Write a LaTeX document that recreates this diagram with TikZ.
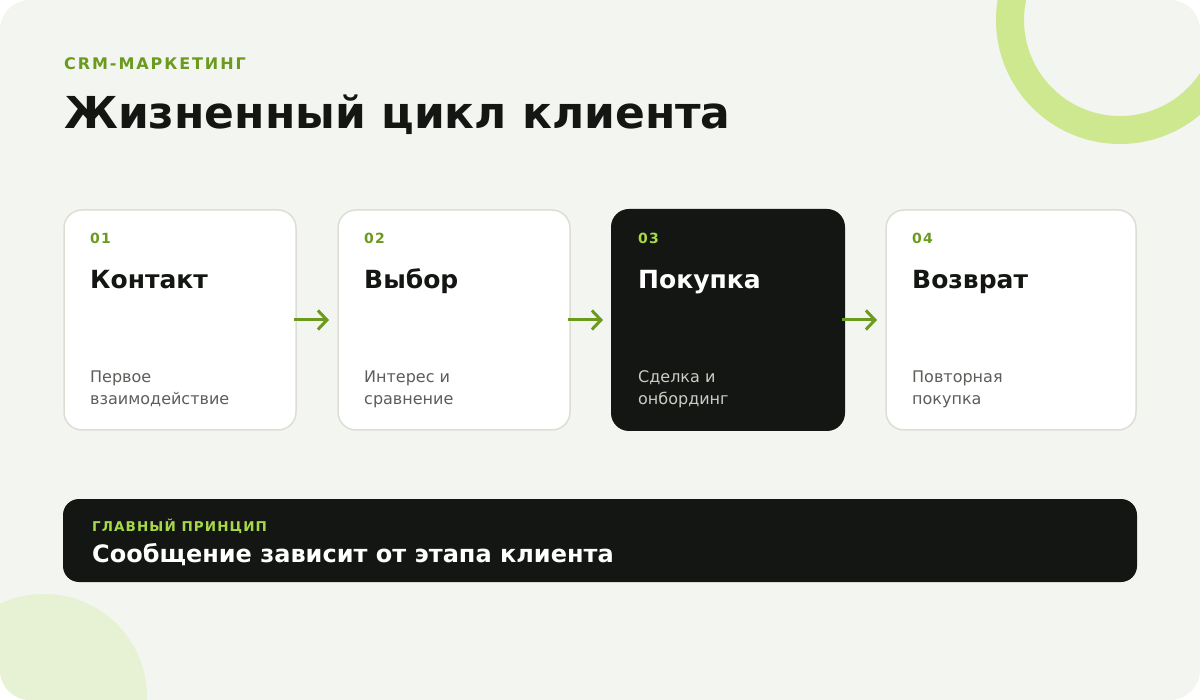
\documentclass[tikz,border=0pt]{standalone}
\usepackage{fontspec}
\setmainfont{DejaVu Sans}
\newfontfamily\spacedfont[LetterSpace=8]{DejaVu Sans}
\newfontfamily\widefont[LetterSpace=12]{DejaVu Sans}
\usetikzlibrary{arrows.meta}
\definecolor{bgc}{HTML}{F3F5F0}
\definecolor{darkc}{HTML}{131612}
\definecolor{greenc}{HTML}{6B9A1E}
\definecolor{limec}{HTML}{A8D84A}
\definecolor{ringc}{HTML}{CDE88F}
\definecolor{blobc}{HTML}{E6F2D3}
\definecolor{borderc}{HTML}{DCDED6}
\definecolor{descc}{HTML}{5C5E5A}
\definecolor{descdark}{HTML}{C9CDC3}
\begin{document}
\begin{tikzpicture}[x=1pt,y=-1pt,
  card/.style={rounded corners=18pt, fill=white, draw=borderc, line width=1.5pt},
  darkcard/.style={rounded corners=18pt, fill=darkc},
  num/.style={anchor=base west, inner sep=0pt, font=\fontsize{14}{16}\selectfont\bfseries\spacedfont, text=greenc},
  ttl/.style={anchor=base west, inner sep=0pt, font=\fontsize{25}{28}\selectfont\bfseries, text=darkc},
  desc/.style={anchor=base west, inner sep=0pt, font=\fontsize{16}{22}\selectfont, text=descc},
  flow/.style={draw=greenc, line width=3pt, -{Straight Barb[length=9pt,width=19pt,line width=3pt]}}
]
\useasboundingbox (0,0) rectangle (1200,700);
\begin{scope}
\clip[rounded corners=30pt] (0,0) rectangle (1200,700);
\fill[bgc] (0,0) rectangle (1200,700);
\draw[ringc, line width=28pt] (1120,20) circle[radius=110];
\fill[blobc] (44,697) circle[radius=103];
\end{scope}

\node[anchor=base west, inner sep=0pt, font=\fontsize{16}{18}\selectfont\bfseries\widefont, text=greenc] (kicker) at (64,70) {CRM-МАРКЕТИНГ};
\node[anchor=base west, inner sep=0pt, font=\fontsize{44}{50}\selectfont\bfseries, text=darkc] (title) at (64,129) {Жизненный цикл клиента};

% cards
\path[card] (64,210) rectangle (296,430);
\node (c1) at (180,320) {};
\path[card] (338,210) rectangle (570,430);
\node (c2) at (454,320) {};
\path[darkcard] (611,209) rectangle (845,431);
\node (c3) at (728,320) {};
\path[card] (886,210) rectangle (1136,430);
\node (c4) at (1011,320) {};

\coordinate (a1s) at (294,320); \coordinate (a1e) at (329,320);
\coordinate (a2s) at (568,320); \coordinate (a2e) at (603,320);
\coordinate (a3s) at (842,320); \coordinate (a3e) at (877,320);
\draw[flow] (a1s) -- (a1e);
\draw[flow] (a2s) -- (a2e);
\draw[flow] (a3s) -- (a3e);

\node[num] (n1) at (90,244) {01};
\node[ttl] (t1) at (90,289) {Контакт};
\node[desc] (d1a) at (90,383) {Первое};
\node[desc] (d1b) at (90,405) {взаимодействие};

\node[num] (n2) at (364,244) {02};
\node[ttl] (t2) at (364,289) {Выбор};
\node[desc] (d2a) at (364,383) {Интерес и};
\node[desc] (d2b) at (364,405) {сравнение};

\node[num, text=limec] (n3) at (638,244) {03};
\node[ttl, text=white] (t3) at (638,289) {Покупка};
\node[desc, text=descdark] (d3a) at (638,383) {Сделка и};
\node[desc, text=descdark] (d3b) at (638,405) {онбординг};

\node[num] (n4) at (912,244) {04};
\node[ttl] (t4) at (912,289) {Возврат};
\node[desc] (d4a) at (912,383) {Повторная};
\node[desc] (d4b) at (912,405) {покупка};

% banner
\path[fill=darkc, rounded corners=16pt] (63,499) rectangle (1137,582);
\node (banner) at (600,540) {};
\node[anchor=base west, inner sep=0pt, font=\fontsize{13.5}{16}\selectfont\bfseries\spacedfont, text=limec] (bk) at (92,531) {ГЛАВНЫЙ ПРИНЦИП};
\node[anchor=base west, inner sep=0pt, font=\fontsize{24}{28}\selectfont\bfseries, text=white] (bt) at (92,562) {Сообщение зависит от этапа клиента};
\end{tikzpicture}
\end{document}
